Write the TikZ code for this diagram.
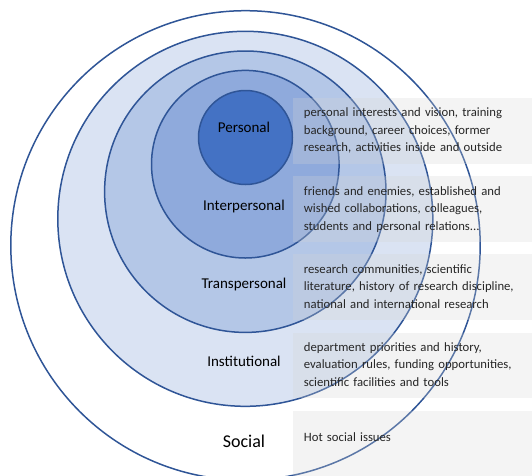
\documentclass[tikz,border=0pt]{standalone}
\usepackage{fontspec}
\setmainfont{Carlito}
\usepackage{tikz}
\definecolor{ringblue}{RGB}{47,85,151}
\definecolor{institfill}{RGB}{218,227,243}
\definecolor{transfill}{RGB}{180,199,231}
\definecolor{interfill}{RGB}{143,170,220}
\definecolor{personfill}{RGB}{68,114,196}
\definecolor{notegray}{RGB}{213,213,213}
\definecolor{notetext}{RGB}{38,38,38}

\begin{document}
\begin{tikzpicture}[x=1pt, y=-1pt,
    layer/.style={circle, draw=ringblue, line width=1.5pt, inner sep=0pt},
    note/.style={rectangle, fill=notegray, fill opacity=0.27, minimum width=240pt, minimum height=65.7pt, anchor=north west, inner sep=0pt},
    desc/.style={anchor=base west, text width=228pt, align=left, inner sep=0pt, text=notetext, font=\fontsize{12.7}{17.5}\selectfont},
    tag/.style={anchor=base, inner sep=0pt, font=\fontsize{15}{18}\selectfont}
]
    \useasboundingbox (0,0) rectangle (532,475);
    \clip (0,0) rectangle (532,475);

    % Rings, outermost first
    \node[layer, fill=white, minimum size=469.4pt] (social) at (245.5,245.4) {};
    \node[layer, fill=institfill, minimum size=375pt] (institutional) at (245.3,218.8) {};
    \node[layer, fill=transfill, minimum size=281.4pt] (transpersonal) at (245.3,191.7) {};
    \node[layer, fill=interfill, minimum size=187.6pt] (interpersonal) at (245.3,164.2) {};
    \node[layer, fill=personfill, minimum size=94pt] (personal) at (245.5,137.5) {};

    % Grey panels on the right
    \node[note] (n1) at (292.5,97.7) {};
    \node[note] (n2) at (292.5,176) {};
    \node[note] (n3) at (292.5,254) {};
    \node[note] (n4) at (292.5,332.3) {};
    \node[note, minimum height=80pt] (n5) at (292.5,410.7) {};

    % Panel texts
    \node[desc] (d1) at (303.7,116.7) {personal interests and vision, training\\ background, career choices, former\\ research, activities inside and outside};
    \node[desc] (d2) at (303.7,195) {friends and enemies, established and\\ wished collaborations, colleagues,\\ students and personal relations...};
    \node[desc] (d3) at (303.7,273) {research communities, scientific\\ literature, history of research discipline,\\ national and international research};
    \node[desc] (d4) at (303.7,351) {department priorities and history,\\ evaluation rules, funding opportunities,\\ scientific facilities and tools};
    \node[desc] (d5) at (303.7,441) {Hot social issues};

    % Ring names
    \node[tag] (l1) at (244,132.3) {Personal};
    \node[tag] (l2) at (244,210.3) {Interpersonal};
    \node[tag] (l3) at (244,288.3) {Transpersonal};
    \node[tag] (l4) at (244,366.3) {Institutional};
    \node[tag, font=\fontsize{18}{21}\selectfont] (l5) at (244,447.5) {Social};
\end{tikzpicture}
\end{document}
